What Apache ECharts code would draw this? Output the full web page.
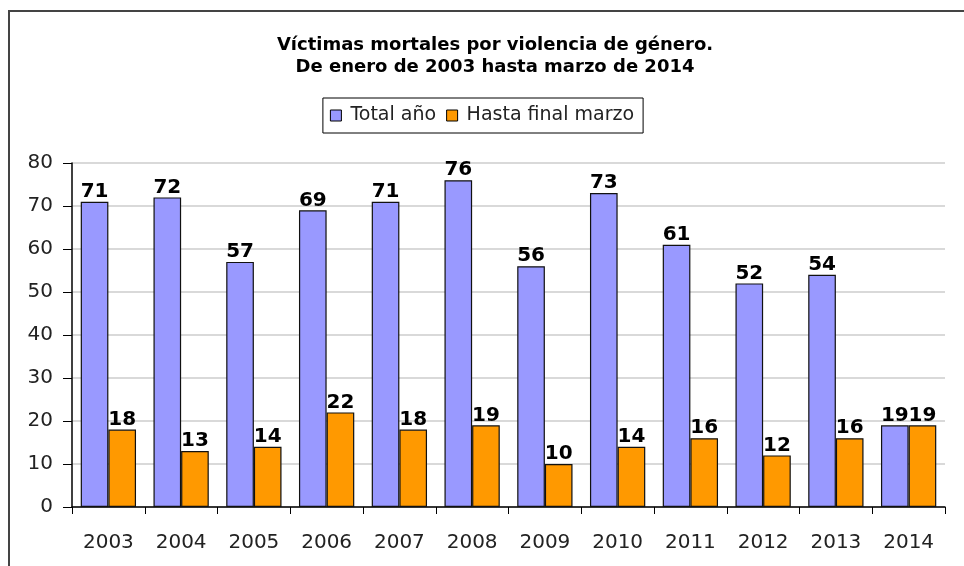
<!DOCTYPE html>
<html>
<head>
<meta charset="utf-8">
<script src="https://cdn.jsdelivr.net/npm/echarts@6/dist/echarts.min.js"></script>
<style>
  html, body { margin: 0; padding: 0; background: #fff; }
  #chart { width: 964px; height: 566px; }
</style>
</head>
<body>
<div id="chart"></div>
<script>
// datos
const years = ['2003', '2004', '2005', '2006', '2007', '2008', '2009', '2010', '2011', '2012', '2013', '2014'];
const totalAnio = [71, 72, 57, 69, 71, 76, 56, 73, 61, 52, 54, 19];
const hastaMarzo = [18, 13, 14, 22, 18, 19, 10, 14, 16, 12, 16, 19];
const seriesNames = ['Total año', 'Hasta final marzo'];

const myChart = echarts.init(document.getElementById('chart'));

const labelStyle = {
    show: true,
    position: 'top',
    distance: 0,
    color: '#000',
    fontFamily: 'DejaVu Sans',
    fontWeight: 'bold',
    fontSize: 20
};

const options = {
    animation: false,
    backgroundColor: '#fff',
    // marco exterior
    graphic: [{
        type: 'rect',
        shape: { x: 9, y: 11, width: 1000, height: 600 },
        style: { fill: 'none', stroke: '#444', lineWidth: 2 },
        silent: true
    }],
    title: {
        text: 'Víctimas mortales por violencia de género.\nDe enero de 2003 hasta marzo de 2014',
        left: 490,
        textAlign: 'center',
        top: 29,
        textStyle: {
            fontFamily: 'DejaVu Sans',
            fontWeight: 'bold',
            fontSize: 18,
            lineHeight: 22,
            color: '#000'
        }
    },
    legend: {
        data: seriesNames,
        left: 'center',
        top: 98,
        icon: 'rect',
        itemWidth: 11,
        itemHeight: 11,
        itemGap: 10,
        padding: [8, 9, 8, 7],
        borderColor: '#000',
        borderWidth: 1,
        itemStyle: { borderColor: '#000', borderWidth: 1 },
        textStyle: {
            fontFamily: 'DejaVu Sans',
            fontSize: 19,
            color: '#222',
            padding: [0, 0, 0, 4]
        }
    },
    grid: {
        left: 72,
        right: 19,
        top: 163,
        bottom: 59
    },
    xAxis: {
        type: 'category',
        data: years,
        axisLine: { lineStyle: { color: '#000', width: 1.5 } },
        axisTick: { show: true, length: 7, alignWithLabel: false, lineStyle: { color: '#000' } },
        axisLabel: {
            margin: 26,
            fontFamily: 'DejaVu Sans',
            fontSize: 20,
            color: '#222'
        }
    },
    yAxis: {
        type: 'value',
        min: 0,
        max: 80,
        interval: 10,
        axisLine: { show: true, lineStyle: { color: '#000', width: 1.5 } },
        axisTick: { show: true, length: 9, lineStyle: { color: '#000' } },
        splitLine: { lineStyle: { color: '#cccccc', width: 1.5 } },
        axisLabel: {
            margin: 19,
            fontFamily: 'DejaVu Sans',
            fontSize: 20,
            color: '#222'
        }
    },
    series: [
        {
            name: seriesNames[0],
            type: 'bar',
            data: totalAnio,
            barGap: '0%',
            barCategoryGap: '24%',
            itemStyle: { color: '#9999ff', borderColor: '#111', borderWidth: 1.2 },
            label: labelStyle
        },
        {
            name: seriesNames[1],
            type: 'bar',
            data: hastaMarzo,
            itemStyle: { color: '#ff9900', borderColor: '#111', borderWidth: 1.2 },
            label: labelStyle
        }
    ]
};

myChart.setOption(options);
</script>
</body>
</html>
